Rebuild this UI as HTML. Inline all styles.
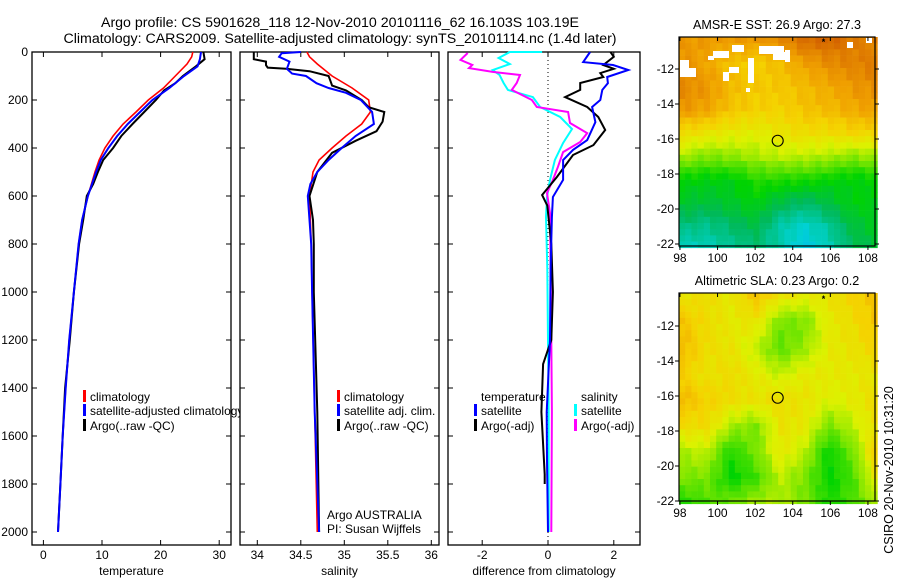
<!DOCTYPE html>
<html><head><meta charset="utf-8">
<style>
html,body{margin:0;padding:0;background:#fff;}
svg{display:block;font-family:"Liberation Sans",sans-serif;}
text{font-size:12px;fill:#000;}
</style></head>
<body>
<svg id="fig" width="900" height="580" viewBox="0 0 900 580" xmlns="http://www.w3.org/2000/svg">
<text x="340" y="27" text-anchor="middle" style="font-size:14.2px">Argo profile: CS 5901628_118 12-Nov-2010 20101116_62 16.103S 103.19E</text>
<text x="340" y="43" text-anchor="middle" style="font-size:14.2px">Climatology: CARS2009. Satellite-adjusted climatology: synTS_20101114.nc (1.4d later)</text>
<g id="plots"></g>
<text transform="translate(893,470) rotate(-90)" text-anchor="middle" style="font-size:12.5px">CSIRO 20-Nov-2010 10:31:20</text>
</svg>
<script>
// ---------- data ----------
const depthTicks=[0,200,400,600,800,1000,1200,1400,1600,1800,2000];
const tempTicks=[0,10,20,30];
const salTicks=[34,34.5,35,35.5,36];
const diffTicks=[-2,0,2];

const tClimD=[0,20,50,100,150,200,250,300,350,400,450,500,600,700,800,1000,1200,1400,1600,1800,2000];
const tClimV=[25.5,25.3,24.5,22.5,20.5,17.9,15.8,13.6,11.9,10.5,9.5,8.8,7.6,6.6,6.0,5.2,4.4,3.8,3.3,2.9,2.5];
const tSatD=[0,30,60,100,150,200,250,300,350,400,450,500,600,700,800,1000,1200,1400,1600,1800,2000];
const tSatV=[26.9,26.7,26.3,24.0,21.5,18.6,16.5,14.4,12.6,11.1,9.8,9.0,7.6,6.6,6.0,5.2,4.4,3.8,3.3,2.9,2.5];
const tArgD=[0,30,60,100,130,160,200,250,300,350,400,450,500,550,600,700,800,1000,1200,1400,1600,1800,2000];
const tArgV=[27.3,27.5,26.0,23.8,22.5,20.6,19.2,17.2,15.2,13.3,11.9,10.2,9.3,8.5,7.4,6.8,6.1,5.2,4.5,3.7,3.3,2.9,2.5];

const sClimD=[0,20,50,100,150,200,250,300,350,400,450,500,600,800,1000,1500,2000];
const sClimV=[34.57,34.6,34.69,34.86,35.09,35.28,35.3,35.2,35.02,34.86,34.71,34.64,34.6,34.62,34.63,34.66,34.69];
const sSatD=[0,5,20,40,70,90,100,130,150,170,200,250,300,350,400,450,500,550,600,700,800,1000,1500,2000];
const sSatV=[34.5,34.28,34.25,34.37,34.34,34.4,34.56,34.68,34.82,35.02,35.19,35.32,35.34,35.13,34.97,34.82,34.69,34.61,34.58,34.6,34.62,34.63,34.66,34.71];
const sArgD=[0,30,40,55,65,70,80,100,120,140,160,200,230,250,290,330,370,420,500,600,700,800,1000,1500,2000];
const sArgV=[33.96,33.96,34.1,34.1,34.12,34.33,34.6,34.82,34.84,34.86,35.02,35.2,35.28,35.46,35.44,35.37,35.13,34.86,34.69,34.6,34.64,34.65,34.65,34.69,34.71];

const dTSatD=[0,42,54,75,104,130,158,200,229,292,367,408,450,533,604,688,900,1200,1500,1700,2000];
const dTSatV=[1.28,1.07,1.98,2.44,1.8,1.82,1.65,1.59,1.34,1.44,1.19,0.76,0.46,0.46,0.15,0.12,0.08,0.06,-0.04,-0.03,0.0];
const dTArgD=[0,20,54,70,88,104,129,158,188,229,271,325,388,429,521,596,640,800,1000,1200,1300,1500,1760,1800];
const dTArgV=[1.9,2.0,1.68,2.0,1.59,1.68,0.98,0.98,0.52,1.19,1.53,1.74,1.38,0.76,0.27,-0.18,-0.02,0.1,0.15,0.1,-0.15,-0.2,-0.1,-0.1];
const dSSatD=[0,0,25,50,75,96,129,158,188,229,271,321,379,450,533,604,688,900,1200,1500,2000];
const dSSatV=[-0.18,-1.16,-1.5,-1.16,-1.68,-1.47,-1.35,-1.22,-0.46,-0.24,0.37,0.73,0.46,0.21,0.06,-0.03,-0.06,-0.02,0.0,0.02,0.02];
const dSArgD=[4,33,54,67,83,96,129,158,200,229,250,296,338,375,417,479,533,588,671,900,1200,1500,2000];
const dSArgV=[-2.44,-2.66,-2.3,-2.4,-1.68,-0.85,-0.95,-1.1,-0.49,-0.34,0.61,0.67,1.19,0.98,0.46,0.3,0.15,-0.03,0.06,0.08,0.1,0.12,0.1];

// map grids (normalized colour values), rows from north to south, cols 98..108
const sstGrid=[
[.86,.86,.86,.86,.9,.95,.97,.92,.9],
[.88,.84,.78,.76,.79,.85,.89,.91,.93],
[.9,.87,.8,.77,.77,.8,.83,.87,.89],
[.87,.84,.78,.75,.75,.78,.8,.83,.85],
[.72,.7,.68,.67,.7,.72,.72,.74,.74],
[.6,.56,.57,.6,.62,.62,.6,.57,.6],
[.42,.4,.4,.46,.46,.45,.42,.4,.42],
[.36,.34,.37,.4,.33,.28,.34,.4,.4],
[.26,.24,.28,.33,.2,.16,.22,.34,.38],
[.16,.18,.22,.26,.2,.1,.18,.3,.34]];
const slaGrid=[
[.7,.72,.68,.78,.7,.68,.7,.75,.78],
[.78,.72,.68,.7,.55,.55,.68,.72,.78],
[.8,.72,.7,.62,.52,.58,.68,.7,.75],
[.75,.7,.72,.68,.62,.68,.68,.68,.7],
[.8,.75,.72,.7,.72,.7,.65,.68,.72],
[.72,.72,.6,.55,.7,.68,.55,.62,.72],
[.6,.62,.45,.55,.68,.62,.42,.55,.78],
[.55,.55,.42,.48,.62,.55,.42,.5,.7],
[.45,.5,.55,.6,.6,.55,.45,.5,.6]];
const lonTicks=[98,100,102,104,106,108];
const latTicks=[-12,-14,-16,-18,-20,-22];
const floatLon=103.2, floatLat=-16.1;

// ---------- helpers ----------
const NS="http://www.w3.org/2000/svg";
const root=document.getElementById('plots');
function el(tag,attrs,parent){const e=document.createElementNS(NS,tag);for(const k in attrs)e.setAttribute(k,attrs[k]);(parent||root).appendChild(e);return e;}
const yD=d=>52+d*0.24;
const PT={x0:32,x1:231,f:v=>43.4+v*5.86};
const PS={x0:240,x1:439,f:v=>257.3+(v-34)*87};
const PD={x0:448,x1:640,f:v=>548+v*32.9};
const TOP=52,BOT=545;

function panel(P,ticks,fmt,label,name,yLabels){
  const b=el('rect',{x:P.x0,y:TOP,width:P.x1-P.x0,height:BOT-TOP,fill:'#fff',stroke:'#000','stroke-width':1.3});
  
  
  depthTicks.forEach(d=>{
    const y=yD(d);
    el('line',{x1:P.x0,x2:P.x0+5,y1:y,y2:y,stroke:'#000'});
    el('line',{x1:P.x1-5,x2:P.x1,y1:y,y2:y,stroke:'#000'});
    if(yLabels){const t=el('text',{x:P.x0-4,y:y+4,'text-anchor':'end'});t.textContent=d;
      
      }
  });
  ticks.forEach(v=>{
    const x=P.f(v);
    el('line',{x1:x,x2:x,y1:TOP,y2:TOP+5,stroke:'#000'});
    el('line',{x1:x,x2:x,y1:BOT-5,y2:BOT,stroke:'#000'});
    const t=el('text',{x:x,y:559,'text-anchor':'middle'});t.textContent=fmt(v);
    
    
  });
  const l=el('text',{x:(P.x0+P.x1)/2,y:575,'text-anchor':'middle'});l.textContent=label;
  
  
}
function line(P,D,V,color,w,name){
  const pts=D.map((d,i)=>P.f(V[i]).toFixed(1)+','+yD(d).toFixed(1)).join(' ');
  const p=el('polyline',{points:pts,fill:'none',stroke:color,'stroke-width':w,'stroke-linejoin':'miter'});
  
  
}
function legend(x,y,color,txt){
  if(color){el('rect',{x:x,y:y-9,width:3,height:12,fill:color});}
  const t=el('text',{x:x+7,y:y+2});t.textContent=txt;
  
  
}

// ---------- temperature ----------
panel(PT,tempTicks,v=>v,'temperature','temperature',true);
line(PT,tClimD,tClimV,'#ff0000',1.6,'temp-climatology-line');
line(PT,tArgD,tArgV,'#000',2,'temp-argo-line');
line(PT,tSatD,tSatV,'#0000ff',2,'temp-satellite-line');
legend(83,399,'#ff0000','climatology');
legend(83,413,'#0000ff','satellite-adjusted climatology');
legend(83,428,'#000','Argo(..raw -QC)');

// ---------- salinity ----------
panel(PS,salTicks,v=>v,'salinity','salinity',false);
line(PS,sClimD,sClimV,'#ff0000',1.6,'sal-climatology-line');
line(PS,sArgD,sArgV,'#000',2,'sal-argo-line');
line(PS,sSatD,sSatV,'#0000ff',2,'sal-satellite-line');
legend(337,399,'#ff0000','climatology');
legend(337,413,'#0000ff','satellite adj. clim.');
legend(337,428,'#000','Argo(..raw -QC)');
legend(320,517,null,'Argo AUSTRALIA');
legend(320,531,null,'PI: Susan Wijffels');

// ---------- difference ----------
panel(PD,diffTicks,v=>v,'difference from climatology','difference',false);
el('line',{x1:PD.f(0),x2:PD.f(0),y1:TOP,y2:BOT,stroke:'#000','stroke-dasharray':'1,3'});
line(PD,dSSatD,dSSatV,'#00ffff',2,'diff-sal-satellite-line');
line(PD,dSArgD,dSArgV,'#ff00ff',2,'diff-sal-argo-line');
line(PD,dTArgD,dTArgV,'#000',2,'diff-temp-argo-line');
line(PD,dTSatD,dTSatV,'#0000ff',2,'diff-temp-satellite-line');
legend(474,399,null,'temperature');
legend(474,413,'#0000ff','satellite');
legend(474,428,'#000','Argo(-adj)');
legend(574,399,null,'salinity');
legend(574,413,'#00ffff','satellite');
legend(574,428,'#ff00ff','Argo(-adj)');

// ---------- maps ----------
const stops=[[0,[0,170,255]],[.15,[0,210,210]],[.3,[0,185,90]],[.42,[0,212,0]],[.55,[120,230,0]],[.65,[220,242,0]],[.75,[245,210,0]],[.85,[240,160,0]],[1,[205,85,0]]];
function cmap(v){v=Math.max(0,Math.min(1,v));for(let i=1;i<stops.length;i++){if(v<=stops[i][0]){const a=stops[i-1],b=stops[i],t=(v-a[0])/(b[0]-a[0]);return 'rgb('+a[1].map((c,k)=>Math.round(c+(b[1][k]-c)*t)).join(',')+')';}}return 'rgb(205,85,0)';}
function sample(G,u,v){const R=G.length-1,C=G[0].length-1;const r=v*R,c=u*C;const r0=Math.min(R-1,Math.floor(r)),c0=Math.min(C-1,Math.floor(c));const fr=r-r0,fc=c-c0;
 return G[r0][c0]*(1-fr)*(1-fc)+G[r0][c0+1]*(1-fr)*fc+G[r0+1][c0]*fr*(1-fc)+G[r0+1][c0+1]*fr*fc;}
function map(M,G,title,name,holes){
  const lx=lon=>M.x0+(lon-97.95)*18.8;
  const ly=lat=>M.yRef+(-12-lat)*17.5;
  const W=M.x1-M.x0,H=M.y1-M.y0,cs=6.2;
  const g=el('g',{});
  
  
  for(let y=M.y0;y<M.y1;y+=cs){for(let x=M.x0;x<M.x1;x+=cs){
    const v=sample(G,(x-M.x0)/W,(y-M.y0)/H)+(((x*7+y*13)|0)%5-2)*0.008;
    el('rect',{x:x,y:y,width:cs+0.3,height:cs+0.3,fill:cmap(v)},g);}}
  (holes||[]).forEach(h=>el('rect',{x:h[0],y:h[1],width:h[2],height:h[3],fill:'#fff'},g));
  el('rect',{x:M.x0,y:M.y0,width:W,height:H,fill:'none',stroke:'#000','stroke-width':1.2});
  lonTicks.forEach(lon=>{const x=lx(lon);
    el('line',{x1:x,x2:x,y1:M.y0,y2:M.y0+4,stroke:'#000'});el('line',{x1:x,x2:x,y1:M.y1,y2:M.y1+4,stroke:'#000'});
    const t=el('text',{x:x,y:M.y1+16,'text-anchor':'middle'});t.textContent=lon;
    
    });
  latTicks.forEach(lat=>{const y=ly(lat);
    el('line',{x1:M.x0-4,x2:M.x0,y1:y,y2:y,stroke:'#000'});el('line',{x1:M.x1,x2:M.x1+4,y1:y,y2:y,stroke:'#000'});
    const t=el('text',{x:M.x0-5,y:y+4,'text-anchor':'end'});t.textContent=lat;
    
    });
  const c=el('circle',{cx:lx(floatLon),cy:ly(floatLat),r:5.5,fill:'none',stroke:'#000','stroke-width':1.1});
  
  
  el('text',{x:lx(105.7)-3,y:ly(-10.4)+4,style:'font-size:9px;font-weight:bold'}).textContent='*';
  const t=el('text',{x:(M.x0+M.x1)/2,y:M.y0-8,'text-anchor':'middle',style:'font-size:12.6px'});t.textContent=title;
  
  
}
map({x0:679,x1:875,y0:37,y1:246,yRef:69},sstGrid,'AMSR-E SST: 26.9 Argo: 27.3','sst-map',
  [[680,68,16,9],[680,60,9,8],[713,51,16,7],[708,56,6,4],[732,45,12,7],[759,46,25,8],[773,52,13,8],[785,50,5,12],[746,88,4,4],[847,42,6,6],[866,38,6,5],[729,67,10,6],[723,72,6,9],[748,58,6,25]]);
map({x0:679,x1:875,y0:293,y1:501,yRef:326},slaGrid,'Altimetric SLA: 0.23 Argo: 0.2','sla-map');
</script>
</body></html>
